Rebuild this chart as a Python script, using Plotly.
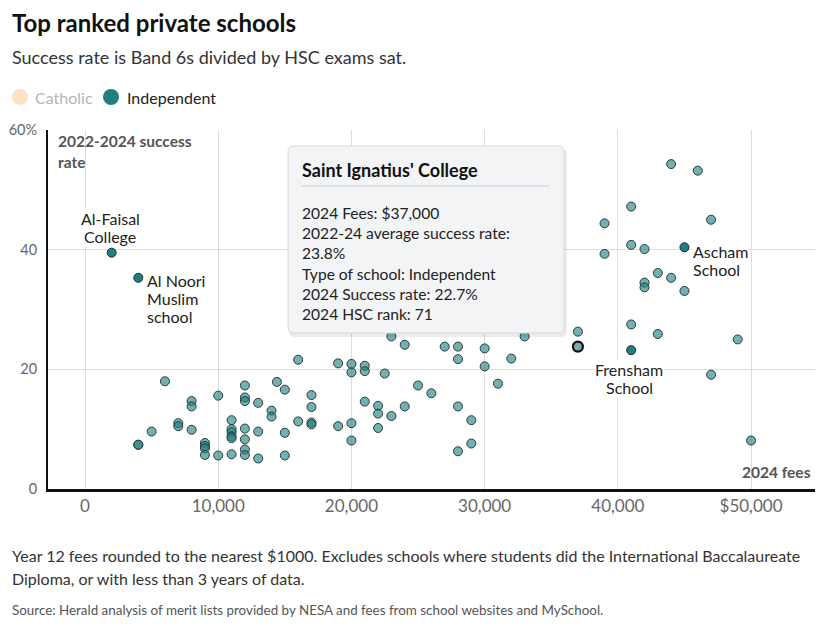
import plotly.graph_objects as go

# ---------------- data ----------------
fees = [6000, 12000, 14400, 15000, 17000, 16000, 10000, 8000, 8000, 12000, 12000, 13000,
        14000, 14000, 17000, 16000, 17000, 17000, 7000, 7000, 5000, 8000, 11000,
        11000, 11000, 11000, 11000, 12000, 13000, 12000, 15000, 4000, 4000,
        9000, 9000, 9000, 9000, 10000, 11000, 12000, 12000, 13000, 15000,
        23000, 24000, 27000, 28000, 28000, 30000, 30000, 32000, 33000,
        19000, 20000, 20000, 21000, 21000, 22500, 19000, 20000, 20000, 21000,
        22000, 22000, 22000, 23000, 24000, 25000, 26000, 28000, 29000, 29000, 28000,
        31000, 37000, 41000, 43000, 49000, 47000, 50000,
        44000, 46000, 41000, 47000, 39000, 41000, 42000, 39000, 43000, 44000,
        42000, 42000, 45000]
success = [18.0, 17.3, 17.9, 16.6, 15.7, 21.6, 15.6, 14.7, 13.8, 15.3, 14.7, 14.4,
           13.1, 12.1, 13.7, 11.3, 11.1, 10.8, 11.0, 10.5, 9.6, 9.9, 11.5,
           10.0, 9.5, 8.8, 8.5, 10.1, 9.6, 8.3, 9.4, 7.4, 7.4,
           7.7, 7.2, 6.8, 5.7, 5.6, 5.8, 6.6, 5.7, 5.1, 5.6,
           25.5, 24.1, 23.8, 23.8, 21.7, 23.5, 20.5, 21.8, 25.5,
           21.0, 20.9, 19.5, 20.6, 19.7, 19.3, 10.5, 11.0, 8.1, 14.6,
           13.9, 12.6, 10.2, 12.2, 13.8, 17.3, 16.0, 13.8, 11.5, 7.6, 6.3,
           17.6, 26.3, 27.5, 25.9, 25.0, 19.1, 8.1,
           54.3, 53.2, 47.2, 45.0, 44.4, 40.8, 40.1, 39.3, 36.1, 35.3,
           34.5, 33.7, 33.1]

hl_names = ["Al-Faisal College", "Al Noori Muslim school", "Ascham School", "Frensham School"]
hl_fees = [2000, 4000, 45000, 41000]
hl_success = [39.5, 35.3, 40.4, 23.2]

hover_name = "Saint Ignatius' College"
hover_fee = [37000]
hover_success = [23.8]
hover_lines = ["2024 Fees: $37,000", "2022-24 average success rate:", "23.8%",
               "Type of school: Independent", "2024 Success rate: 22.7%", "2024 HSC rank: 71"]

x_ticks = [0, 10000, 20000, 30000, 40000, 50000]
x_ticktext = ["0", "10,000", "20,000", "30,000", "40,000", "$50,000"]
y_ticks = [0, 20, 40, 60]
y_ticktext = ["0", "20", "40", "60%"]

# ---------------- layout helpers ----------------
# page is shown with the browser's default 8px body margin, so the figure is
# 8px smaller in each direction and all page-pixel positions are shifted by 8.
OFF = 8
W, H = 824 - OFF, 629 - OFF
PL, PR, PT, PB = 48, 815, 130, 489   # plot area in page pixels
FONT = "Lato"


def fx(px):
    return (px - PL) / (PR - PL)


def fy(py):
    return (PB - py) / (PB - PT)


TEAL = "#1e7f80"
OUTLINE = "#2a3a3a"

fig = go.Figure()
fig.add_trace(go.Scatter(
    x=fees, y=success, mode="markers", name="Independent",
    marker=dict(size=9, color="rgba(30,128,128,0.62)", line=dict(color=OUTLINE, width=1)),
    hoverinfo="skip", showlegend=False))
fig.add_trace(go.Scatter(
    x=hl_fees, y=hl_success, mode="markers", text=hl_names,
    marker=dict(size=9, color=TEAL, line=dict(color="#1a2a2a", width=1)),
    hoverinfo="skip", showlegend=False))
fig.add_trace(go.Scatter(
    x=hover_fee, y=hover_success, mode="markers", text=[hover_name],
    marker=dict(size=10, color="rgba(30,128,128,0.62)", line=dict(color="#111", width=2.2)),
    hoverinfo="skip", showlegend=False))

ann = []
shapes = []


def text(px, py, s, size=15, color="#222", anchor="left", bold=False, bg=None, font=FONT):
    d = dict(x=fx(px), y=fy(py), xref="paper", yref="paper", text=("<b>%s</b>" % s) if bold else s,
             showarrow=False, xanchor=anchor, yanchor="middle",
             font=dict(family=font, size=size, color=color))
    if bg:
        d.update(bgcolor=bg, borderpad=0)
    ann.append(d)


# title / subtitle
text(10, 22, "Top ranked private schools", size=24, color="#111", bold=True)
text(10, 57, "Success rate is Band 6s divided by HSC exams sat.", size=18, color="#333")

# legend
for cx, col in [(20, "#fde3c6"), (111, TEAL)]:
    shapes.append(dict(type="circle", xref="paper", yref="paper",
                       x0=fx(cx - 8), x1=fx(cx + 8), y0=fy(97 + 8), y1=fy(97 - 8),
                       fillcolor=col, line=dict(width=0)))
text(33, 97, "Catholic", size=16, color="#b5b5b5")
text(125, 97, "Independent", size=16, color="#222")

# axis titles
text(56, 141, "2022-2024 success", size=15.5, color="#555", bold=True)
text(56, 162, "rate", size=15.5, color="#555", bold=True)
text(813, 472, "2024 fees", size=15.5, color="#555", anchor="right", bold=True)

# point labels
for lines, px, py0, anc in [(["Al-Faisal", "College"], 110, 218, "center"),
                            (["Al Noori", "Muslim", "school"], 146, 280, "left"),
                            (["Ascham", "School"], 692, 251, "left"),
                            (["Frensham", "School"], 629, 369, "center")]:
    for i, l in enumerate(lines):
        text(px, py0 + 18 * i, l, size=16, color="#222", anchor=anc, bg="white")

# tooltip box
x0, y0, x1, y1, r = 288, 146, 564, 333, 6


def rpath(a0, b0, a1, b1, rr):
    X = lambda v: fx(v)
    Y = lambda v: fy(v)
    rx = rr / (PR - PL)
    ry = rr / (PB - PT)
    return ("M %f,%f L %f,%f Q %f,%f %f,%f L %f,%f Q %f,%f %f,%f L %f,%f Q %f,%f %f,%f L %f,%f Q %f,%f %f,%f Z" % (
        X(a0) + rx, Y(b0), X(a1) - rx, Y(b0), X(a1), Y(b0), X(a1), Y(b0) - ry,
        X(a1), Y(b1) + ry, X(a1), Y(b1), X(a1) - rx, Y(b1),
        X(a0) + rx, Y(b1), X(a0), Y(b1), X(a0), Y(b1) + ry,
        X(a0), Y(b0) - ry, X(a0), Y(b0), X(a0) + rx, Y(b0)))


shapes.append(dict(type="path", xref="paper", yref="paper", layer="above",
                   path=rpath(x0 + 1, y0 + 3, x1 + 3, y1 + 4, r),
                   fillcolor="rgba(0,0,0,0.08)", line=dict(width=0)))
shapes.append(dict(type="path", xref="paper", yref="paper", layer="above",
                   path=rpath(x0, y0, x1, y1, r),
                   fillcolor="#f3f4f6", line=dict(color="#d9d9dc", width=1)))
shapes.append(dict(type="line", xref="paper", yref="paper", layer="above",
                   x0=fx(301), x1=fx(549), y0=fy(186), y1=fy(186),
                   line=dict(color="#cfd0d4", width=1)))
text(300, 170, hover_name, size=18, color="#111", bold=True)
for i, l in enumerate(hover_lines):
    text(300, 213 + 20.2 * i, l, size=15.6, color="#222")

# footnotes
text(10, 555, "Year 12 fees rounded to the nearest $1000. Excludes schools where students did the International Baccalaureate",
     size=16, color="#333")
text(10, 578, "Diploma, or with less than 3 years of data.", size=16, color="#333")
text(10, 610, "Source: Herald analysis of merit lists provided by NESA and fees from school websites and MySchool.",
     size=13.4, color="#555")

fig.update_layout(
    width=W, height=H,
    margin=dict(l=PL - OFF, r=W - (PR - OFF), t=PT - OFF, b=H - (PB - OFF), pad=0, autoexpand=False),
    paper_bgcolor="white", plot_bgcolor="white",
    showlegend=False, hovermode=False,
    font=dict(family=FONT, size=14, color="#555"),
    annotations=ann, shapes=shapes,
    xaxis=dict(range=[-2780, 54800], tickvals=x_ticks, ticktext=x_ticktext, automargin=False,
               showgrid=True, gridcolor="#dcdcdc", gridwidth=1, zeroline=False,
               showline=True, linecolor="#111", linewidth=3, ticks="", ticklen=0,
               ticklabelstandoff=0, tickfont=dict(size=17, color="#666"), fixedrange=True),
    yaxis=dict(range=[0, 60], tickvals=y_ticks, ticktext=y_ticktext, automargin=False,
               showgrid=True, gridcolor="#dcdcdc", gridwidth=1, zeroline=False,
               showline=True, linecolor="#111", linewidth=2, ticks="", ticklen=0,
               ticklabelstandoff=6, tickfont=dict(size=14.5, color="#666"), fixedrange=True),
)

fig.write_html("out.html")
